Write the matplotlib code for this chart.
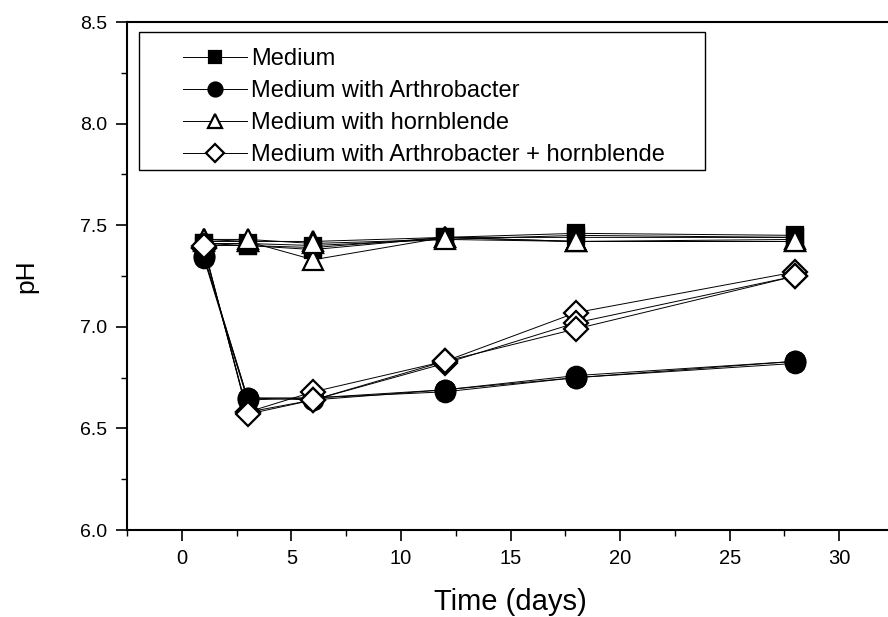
import numpy as np
import matplotlib
matplotlib.use("Agg")
import matplotlib.pyplot as plt
from matplotlib.patches import Rectangle
from matplotlib.ticker import MultipleLocator, FormatStrFormatter

plt.rcParams['font.family'] = ['Liberation Sans', 'DejaVu Sans']

# sampling days
days = [1, 3, 6, 12, 18, 28]

# pH readings, three replicate flasks per treatment
medium = [
    [7.40, 7.40, 7.38, 7.44, 7.46, 7.45],
    [7.41, 7.41, 7.40, 7.43, 7.45, 7.44],
    [7.41, 7.40, 7.39, 7.44, 7.44, 7.44],
]
arthro = [
    [7.35, 6.65, 6.65, 6.69, 6.76, 6.83],
    [7.34, 6.64, 6.65, 6.68, 6.75, 6.83],
    [7.35, 6.65, 6.64, 6.69, 6.75, 6.82],
]
hornblende = [
    [7.43, 7.42, 7.42, 7.44, 7.42, 7.43],
    [7.42, 7.42, 7.33, 7.44, 7.42, 7.42],
    [7.43, 7.43, 7.41, 7.43, 7.42, 7.42],
]
arthro_hb = [
    [7.39, 6.58, 6.68, 6.83, 7.07, 7.27],
    [7.39, 6.58, 6.64, 6.82, 7.02, 7.25],
    [7.40, 6.57, 6.64, 6.83, 6.99, 7.25],
]

labels = ['Medium', 'Medium with Arthrobacter', 'Medium with hornblende',
          'Medium with Arthrobacter + hornblende']

styles = [
    dict(marker='s', markersize=12, markerfacecolor='black'),
    dict(marker='o', markersize=14, markerfacecolor='black'),
    dict(marker='^', markersize=14, markerfacecolor='white'),
    dict(marker='D', markersize=12.5, markerfacecolor='white'),
]

W, H = 888, 617
fig = plt.figure(figsize=(W / 100, H / 100), dpi=100)
ax = fig.add_axes([127 / W, 1 - 530 / H, (894 - 127) / W, (530 - 22) / H])

handles = []
for reps, lab, st in zip([medium, arthro, hornblende, arthro_hb], labels, styles):
    for i, vals in enumerate(reps):
        ln, = ax.plot(days, vals, color='black', lw=0.7,
                      markeredgecolor='black', markeredgewidth=1.6, **st)
        if i == 0:
            handles.append(ln)

ax.set_xlim(-2.5, 32.5)
ax.set_ylim(6.0, 8.5)
ax.xaxis.set_major_locator(MultipleLocator(5))
ax.xaxis.set_minor_locator(MultipleLocator(2.5))
ax.yaxis.set_major_locator(MultipleLocator(0.5))
ax.yaxis.set_minor_locator(MultipleLocator(0.25))
ax.yaxis.set_major_formatter(FormatStrFormatter('%.1f'))

ax.tick_params(which='major', direction='out', length=8, width=1.2, pad=6)
ax.tick_params(which='minor', direction='out', length=4.5, width=1.0)
ax.tick_params(axis='y', labelsize=14)
ax.tick_params(axis='x', labelsize=14.5)
for sp in ax.spines.values():
    sp.set_linewidth(1.5)

ax.set_xlabel('Time (days)', fontsize=21, labelpad=14)
ax.set_ylabel('pH', fontsize=19, labelpad=30)

# legend box drawn separately so the handles sit further in from the edge
frame = Rectangle((139 / W, 1 - 170 / H), (705 - 139) / W, (170 - 32) / H,
                  transform=fig.transFigure, fill=True, facecolor='white',
                  edgecolor='black', lw=1.0, zorder=4)
ax.add_patch(frame)
frame.set_clip_on(False)

leg = ax.legend(handles, labels, loc='upper left',
                bbox_to_anchor=(171 / W, 1 - 36 / H),
                bbox_transform=fig.transFigure,
                fontsize=17, frameon=False,
                handlelength=2.7, handletextpad=0.2, labelspacing=0.43,
                markerscale=0.72, borderpad=0.0)
leg.set_zorder(5)

fig.savefig('out.png', dpi=100)
